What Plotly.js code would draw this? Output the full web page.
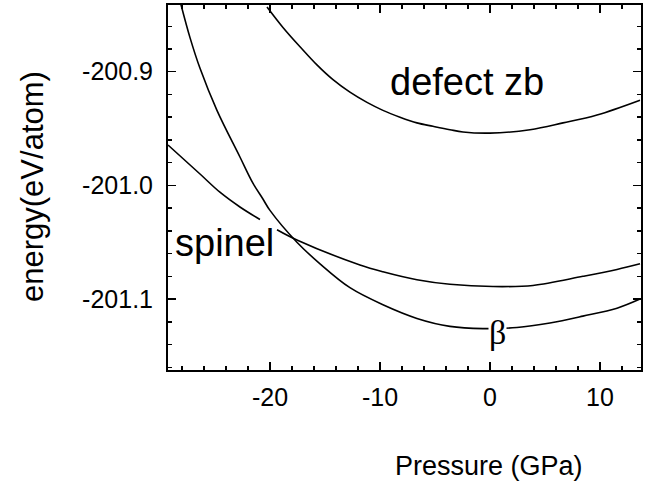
<!DOCTYPE html>
<html>
<head>
<meta charset="utf-8">
<script src="https://cdn.plot.ly/plotly-3.0.1.min.js"></script>
<style>html,body{margin:0;padding:0;background:#fff}#chart{width:651px;height:495px}</style>
</head>
<body>
<div id="chart"></div>
<script>
// Pressure (GPa) and energy (eV/atom)
const pressureZb = [-20.27, -18.82, -17.27, -15.73, -14.27, -12.73, -11.18, -9.73, -8.18, -6.64, -5.18, -3.64, -2.45, 0.0, 3.64, 6.64, 9.73, 13.64];
const energyZb   = [-200.843, -200.861, -200.878, -200.894, -200.907, -200.918, -200.927, -200.934, -200.940, -200.945, -200.948, -200.951, -200.953, -200.954, -200.951, -200.945, -200.938, -200.925];

const pressureSpinel = [-29.27, -26.36, -24.55, -22.73, -20.91, null, -19.36, -17.55, -11.82, -9.73, -6.64, -3.64, 0.27, 3.91, 8.45, 11.55, 13.64];
const energySpinel   = [-200.9645, -200.990, -201.006, -201.019, -201.030, null, -201.039, -201.048, -201.070, -201.076, -201.083, -201.087, -201.089, -201.088, -201.080, -201.074, -201.069];

const pressureBeta = [-28.09, -27.27, -26.36, -24.82, -22.73, -21.55, -20.64, -20.0, -17.55, -15.45, -12.73, -9.73, -6.64, -3.64, -0.64, 2.45, 5.45, 8.45, 11.55, 13.64];
const energyBeta   = [-200.841, -200.870, -200.897, -200.934, -200.975, -200.998, -201.012, -201.022, -201.050, -201.069, -201.090, -201.105, -201.117, -201.124, -201.126, -201.125, -201.121, -201.115, -201.108, -201.100];

const xTickVals = [-20, -10, 0, 10];
const xTickText = ["-20", "-10", "0", "10"];
const yTickVals = [-200.9, -201.0, -201.1];
const yTickText = ["-200.9", "-201.0", "-201.1"];

const curveLabels = ["defect zb", "spinel", "β"];
const labelP = [-2.09, -24.09, 0.64];
const labelE = [-200.909, -201.051, -201.129];

const xTitle = "Pressure (GPa)";
const yTitle = "energy(eV/atom)";

const lineStyle = {color: "#000", width: 1.6, shape: "spline", smoothing: 1};
const traces = [
  {x: pressureZb, y: energyZb, mode: "lines", line: lineStyle, connectgaps: false, hoverinfo: "skip"},
  {x: pressureSpinel, y: energySpinel, mode: "lines", line: lineStyle, connectgaps: false, hoverinfo: "skip"},
  {x: pressureBeta, y: energyBeta, mode: "lines", line: lineStyle, connectgaps: false, hoverinfo: "skip"}
];

const font = "Liberation Sans, Arial, Helvetica, sans-serif";
const axisCommon = {
  showline: true, linecolor: "#000", linewidth: 2, mirror: "ticks",
  ticks: "inside", ticklen: 8, tickwidth: 1.5, tickcolor: "#000",
  showgrid: false, zeroline: false,
  tickfont: {family: font, size: 25, color: "#000"}
};

const layout = {
  width: 651, height: 495,
  margin: {l: 168, r: 10, t: 5, b: 125},
  paper_bgcolor: "#fff", plot_bgcolor: "#fff",
  showlegend: false,
  xaxis: Object.assign({}, axisCommon, {
    range: [-29.27, 13.73], tickmode: "array", tickvals: xTickVals, ticktext: xTickText,
    minor: {tick0: 0, dtick: 2, ticks: "inside", ticklen: 4, tickwidth: 1.5, tickcolor: "#000"},
    ticklabelstandoff: 4
  }),
  yaxis: Object.assign({}, axisCommon, {
    range: [-201.1624, -200.8413], tickmode: "array", tickvals: yTickVals, ticktext: yTickText,
    minor: {tick0: -200.9, dtick: 0.02, ticks: "inside", ticklen: 4, tickwidth: 1.5, tickcolor: "#000"},
    ticklabelstandoff: 8
  }),
  annotations: [
    {x: labelP[0], y: labelE[0], xref: "x", yref: "y", text: curveLabels[0], showarrow: false,
     xanchor: "center", yanchor: "middle", font: {family: font, size: 38, color: "#000"}},
    {x: labelP[1], y: labelE[1], xref: "x", yref: "y", text: curveLabels[1], showarrow: false,
     xanchor: "center", yanchor: "middle", font: {family: font, size: 38, color: "#000"}},
    {x: labelP[2], y: labelE[2], xref: "x", yref: "y", text: curveLabels[2], showarrow: false,
     xanchor: "center", yanchor: "middle", bgcolor: "#fff", borderpad: 0,
     font: {family: "Liberation Serif, DejaVu Serif, serif", size: 34, color: "#000"}},
    {x: 0, y: 0, xref: "paper", yref: "paper", text: xTitle, showarrow: false,
     xanchor: "center", yanchor: "middle", font: {family: font, size: 27, color: "#000"}},
    {x: 0, y: 0, xref: "paper", yref: "paper", text: yTitle, showarrow: false, textangle: -90,
     xanchor: "center", yanchor: "middle", font: {family: font, size: 31, color: "#000"}}
  ]
};
// place the titles at pixel positions measured on the reference
const pw = 651 - 168 - 10, ph = 495 - 5 - 125;
layout.annotations[3].x = (489 - 168) / pw; layout.annotations[3].y = (495 - 125 - 466) / ph;
layout.annotations[4].x = (33 - 168) / pw;  layout.annotations[4].y = (495 - 125 - 187) / ph;

Plotly.newPlot("chart", traces, layout, {staticPlot: true, displayModeBar: false});
</script>
</body>
</html>
